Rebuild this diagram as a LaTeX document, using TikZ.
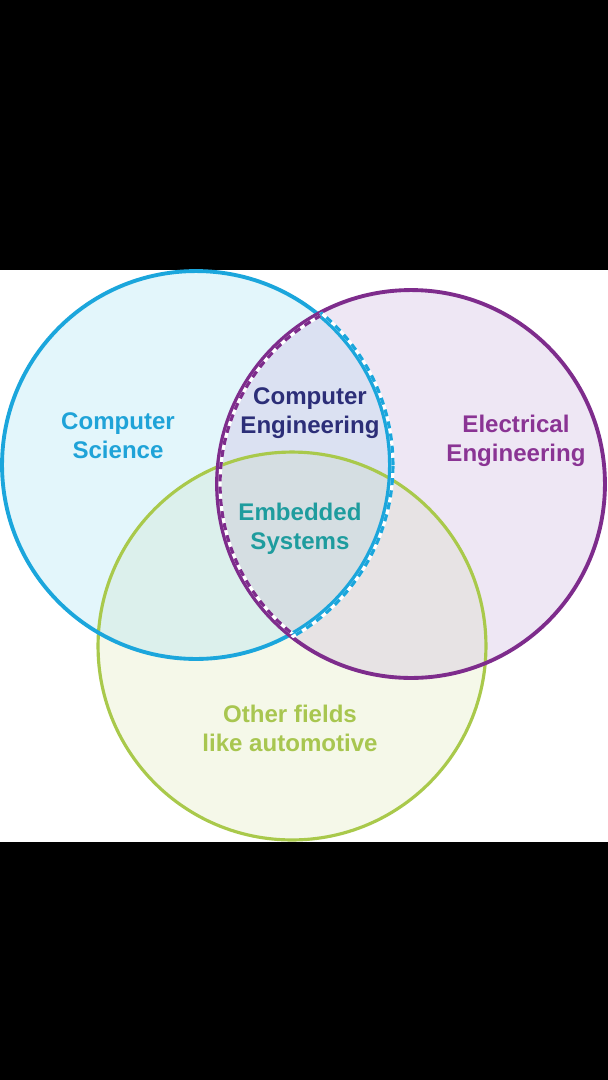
\documentclass[tikz,border=0pt]{standalone}
\usepackage{fontspec}
\setmainfont{Liberation Sans}
\definecolor{csc}{HTML}{1BA6DC}
\definecolor{eec}{HTML}{7E2C8C}
\definecolor{ofc}{HTML}{A9C94B}
\definecolor{csfill}{HTML}{E3F6FB}
\definecolor{eefill}{HTML}{EEE7F4}
\definecolor{offill}{HTML}{F5F8E9}
\definecolor{csoffill}{HTML}{DCF0EC}
\definecolor{eeoffill}{HTML}{E7E3E4}
\definecolor{lensfill}{HTML}{DBE1F2}
\definecolor{trifill}{HTML}{D5DEE2}
\definecolor{cetext}{HTML}{2C2E78}
\definecolor{estext}{HTML}{1E9C9E}
\definecolor{eetext}{HTML}{8A3494}
\definecolor{cstext}{HTML}{1FA3D8}
\definecolor{oftext}{HTML}{A8C650}
\tikzset{
  lbl/.style={font=\bfseries\fontsize{13.7}{16.5}\selectfont, align=center, inner sep=0pt},
  ring/.style={line width=2.2pt},
}
\begin{document}
\begin{tikzpicture}[x=0.02cm,y=-0.02cm]
\fill[black] (0,0) rectangle (608,1080);
\fill[white] (0,270) rectangle (608,842);
\coordinate (cs) at (196,465);
\coordinate (ee) at (411,484);
\coordinate (of) at (292,646);
\def\R{3.88cm}
% base fills
\fill[csfill] (cs) circle[radius=\R];
\fill[eefill] (ee) circle[radius=\R];
\fill[offill] (of) circle[radius=\R];
\begin{scope}
  \clip (cs) circle[radius=\R];
  \fill[csoffill] (of) circle[radius=\R];
  \fill[lensfill] (ee) circle[radius=\R];
  \clip (ee) circle[radius=\R];
  \fill[trifill] (of) circle[radius=\R];
\end{scope}
\begin{scope}
  \clip (ee) circle[radius=\R];
  \clip (0,270) rectangle (608,842);
  \fill[eeoffill] (of) circle[radius=\R];
  \clip (cs) circle[radius=\R];
  \fill[trifill] (of) circle[radius=\R];
\end{scope}
% ring outlines
\draw[ofc, line width=1.8pt] (of) circle[radius=\R];
\draw[csc, ring] (cs) circle[radius=\R];
\draw[eec, ring] (ee) circle[radius=\R];
% dashed lens border
\begin{scope}
  \clip (ee) circle[radius=\R];
  \draw[white, line width=1.8pt] (cs) circle[radius=3.94cm];
  \draw[csc, line width=1.8pt, dash pattern=on 4pt off 3pt] (cs) circle[radius=3.94cm];
\end{scope}
\begin{scope}
  \clip (cs) circle[radius=\R];
  \draw[white, line width=1.8pt] (ee) circle[radius=3.82cm];
  \draw[eec, line width=1.8pt, dash pattern=on 4pt off 3pt] (ee) circle[radius=3.82cm];
\end{scope}
% labels
\node[lbl, text=cstext] (lcs) at (118,436) {Computer\\Science};
\node[lbl, text=eetext] (lee) at (516,441) {Electrical\\Engineering};
\node[lbl, text=cetext] (lce) at (310,413) {Computer\\Engineering};
\node[lbl, text=estext] (les) at (300,529) {Embedded\\Systems};
\node[lbl, text=oftext] (lof) at (290,728) {Other fields\\like automotive};
\end{tikzpicture}
\end{document}
